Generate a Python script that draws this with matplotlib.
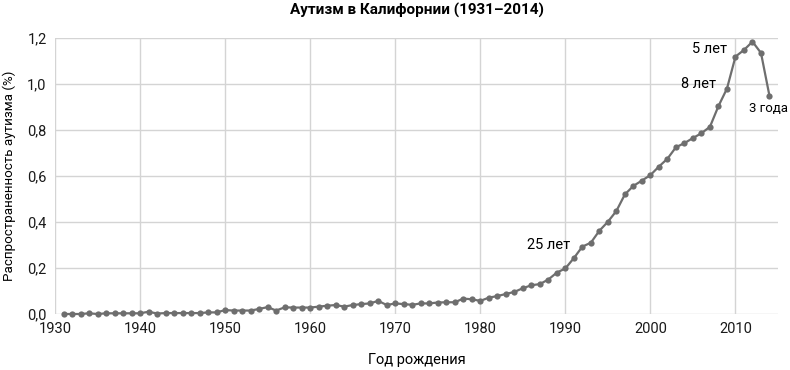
import matplotlib
matplotlib.use("Agg")
import matplotlib.pyplot as plt
from matplotlib import font_manager

# font: a narrow sans if available
names = {f.name for f in font_manager.fontManager.ttflist}
family = "Liberation Sans Narrow" if "Liberation Sans Narrow" in names else "Roboto"
plt.rcParams["font.family"] = [family, "DejaVu Sans"]

years = list(range(1931, 2015))
prevalence = [
    0.000, 0.000, 0.000, 0.003, 0.000, 0.003, 0.003, 0.003, 0.003, 0.003,  # 1931-1940
    0.010, 0.002, 0.004, 0.004, 0.004, 0.004, 0.004, 0.007, 0.007, 0.017,  # 1941-1950
    0.015, 0.015, 0.015, 0.022, 0.030, 0.015, 0.029, 0.028, 0.028, 0.028,  # 1951-1960
    0.032, 0.036, 0.039, 0.032, 0.039, 0.043, 0.046, 0.057, 0.039, 0.046,  # 1961-1970
    0.043, 0.040, 0.046, 0.046, 0.050, 0.051, 0.051, 0.067, 0.064, 0.057,  # 1971-1980
    0.071, 0.078, 0.087, 0.096, 0.112, 0.125, 0.130, 0.150, 0.180, 0.198,  # 1981-1990
    0.243, 0.293, 0.310, 0.362, 0.401, 0.448, 0.520, 0.557, 0.580, 0.604,  # 1991-2000
    0.641, 0.675, 0.725, 0.743, 0.765, 0.786, 0.814, 0.904, 0.980, 1.119,  # 2001-2010
    1.148, 1.184, 1.135, 0.948,                                            # 2011-2014
]

notes = ["25 лет", "8 лет", "5 лет", "3 года"]
note_years = [1990, 2009, 2010, 2014]

fig = plt.figure(figsize=(7.9, 3.7), dpi=100)
ax = fig.add_axes([55 / 790, 56 / 370, (778 - 55) / 790, (314 - 38) / 370])

ax.plot(years, prevalence, color="#6e6e6e", lw=1.6, marker="o", ms=4.5,
        markeredgewidth=0, zorder=3, clip_on=False)

ax.set_xlim(1930, 2015)
ax.set_ylim(0, 1.2)
ax.set_xticks(range(1930, 2011, 10))
ax.set_yticks([0, 0.2, 0.4, 0.6, 0.8, 1.0, 1.2])
ax.set_yticklabels(["0,0", "0,2", "0,4", "0,6", "0,8", "1,0", "1,2"])
ax.grid(True, color="#d4d4d4", lw=1)
ax.set_axisbelow(True)
for s in ax.spines.values():
    s.set_visible(False)
ax.tick_params(length=0, labelsize=10.5, colors="#1a1a1a", pad=6)

ax.set_xlabel("Год рождения", fontsize=10.5, labelpad=12)
ax.set_ylabel("Распространенность аутизма (%)", fontsize=9.6, labelpad=8)
ax.set_title("Аутизм в Калифорнии (1931–2014)", fontsize=11, fontweight="bold", pad=17)

# age annotations (offsets in pixels from the data point)
offsets = {"25 лет": (5, 23, "right", 10.5),
           "8 лет": (-11, 5, "right", 10.5),
           "5 лет": (-8, 8, "right", 10.5),
           "3 года": (-20, -13, "left", 9.5)}
for txt, yr in zip(notes, note_years):
    dx, dy, ha, fs = offsets[txt]
    ax.annotate(txt, (yr, prevalence[years.index(yr)]), xytext=(dx, dy),
                textcoords="offset pixels", ha=ha, va="center", fontsize=fs)

fig.savefig("out.png", dpi=100)
